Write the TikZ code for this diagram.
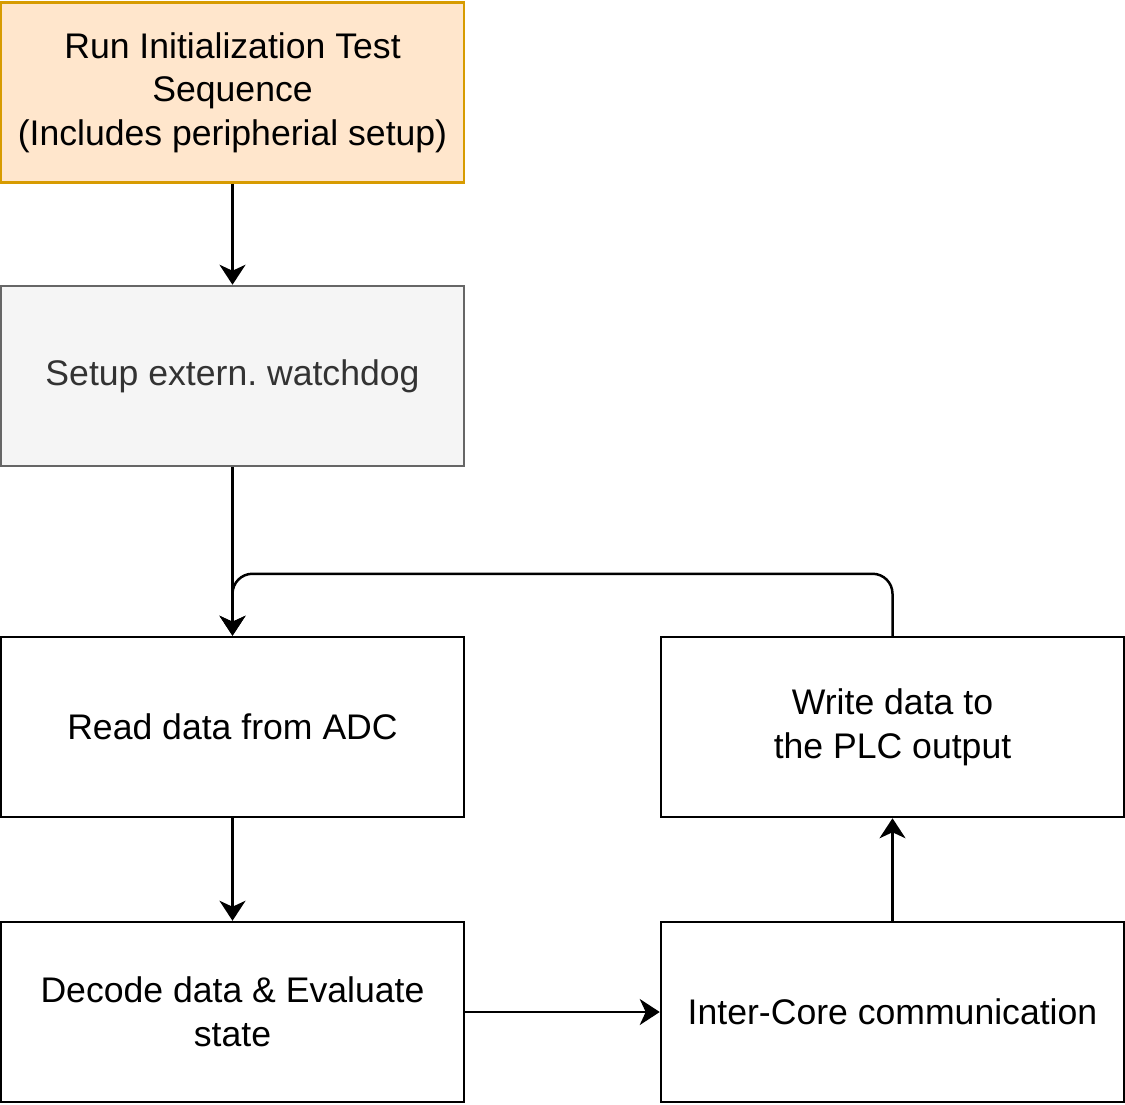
\documentclass[tikz,border=0pt]{standalone}
\usepackage{fontspec}
\setmainfont{Liberation Sans}
\usetikzlibrary{arrows.meta}

\definecolor{initfill}{HTML}{FFE6CC}
\definecolor{initline}{HTML}{D79B00}
\definecolor{wdfill}{HTML}{F5F5F5}
\definecolor{wdline}{HTML}{666666}
\definecolor{wdtext}{HTML}{333333}

\def\unit{0.5pt}

\begin{document}
\begin{tikzpicture}[x=\unit, y=-\unit,
    box/.style={draw, line width=1.25pt, minimum width=231.5pt, minimum height=90pt,
      inner sep=0pt, align=center, font=\fontsize{17.8}{21.8}\selectfont},
    arr/.style={line width=1.25pt, -{Stealth[length=10pt,width=13pt,inset=3pt]}}]
  \useasboundingbox (0,0) rectangle (1125,1104);
  \node[box, fill=initfill, draw=initline] (init) at (232.5, 92.5)
    {Run Initialization Test\\Sequence\\(Includes peripherial setup)};
  \node[box, fill=wdfill, draw=wdline, text=wdtext] (watchdog) at (232.5, 376)
    {Setup extern.\ watchdog};
  \node[box] (read) at (232.5, 727) {Read data from ADC};
  \node[box] (decode) at (232.5, 1012) {Decode data \& Evaluate\\state};
  \node[box] (intercore) at (892.5, 1012) {Inter-Core communication};
  \node[box] (write) at (892.5, 727) {Write data to\\the PLC output};
  % connectors
  \draw[arr] (init) -- (watchdog);
  \draw[arr] (watchdog) -- (read);
  \draw[arr] (read) -- (decode);
  \draw[arr] (decode) -- (intercore);
  \draw[arr] (intercore) -- (write);
  \draw[arr, rounded corners=10pt] (write.north) -- ++(0,-62) -| (read.north);
\end{tikzpicture}
\end{document}
